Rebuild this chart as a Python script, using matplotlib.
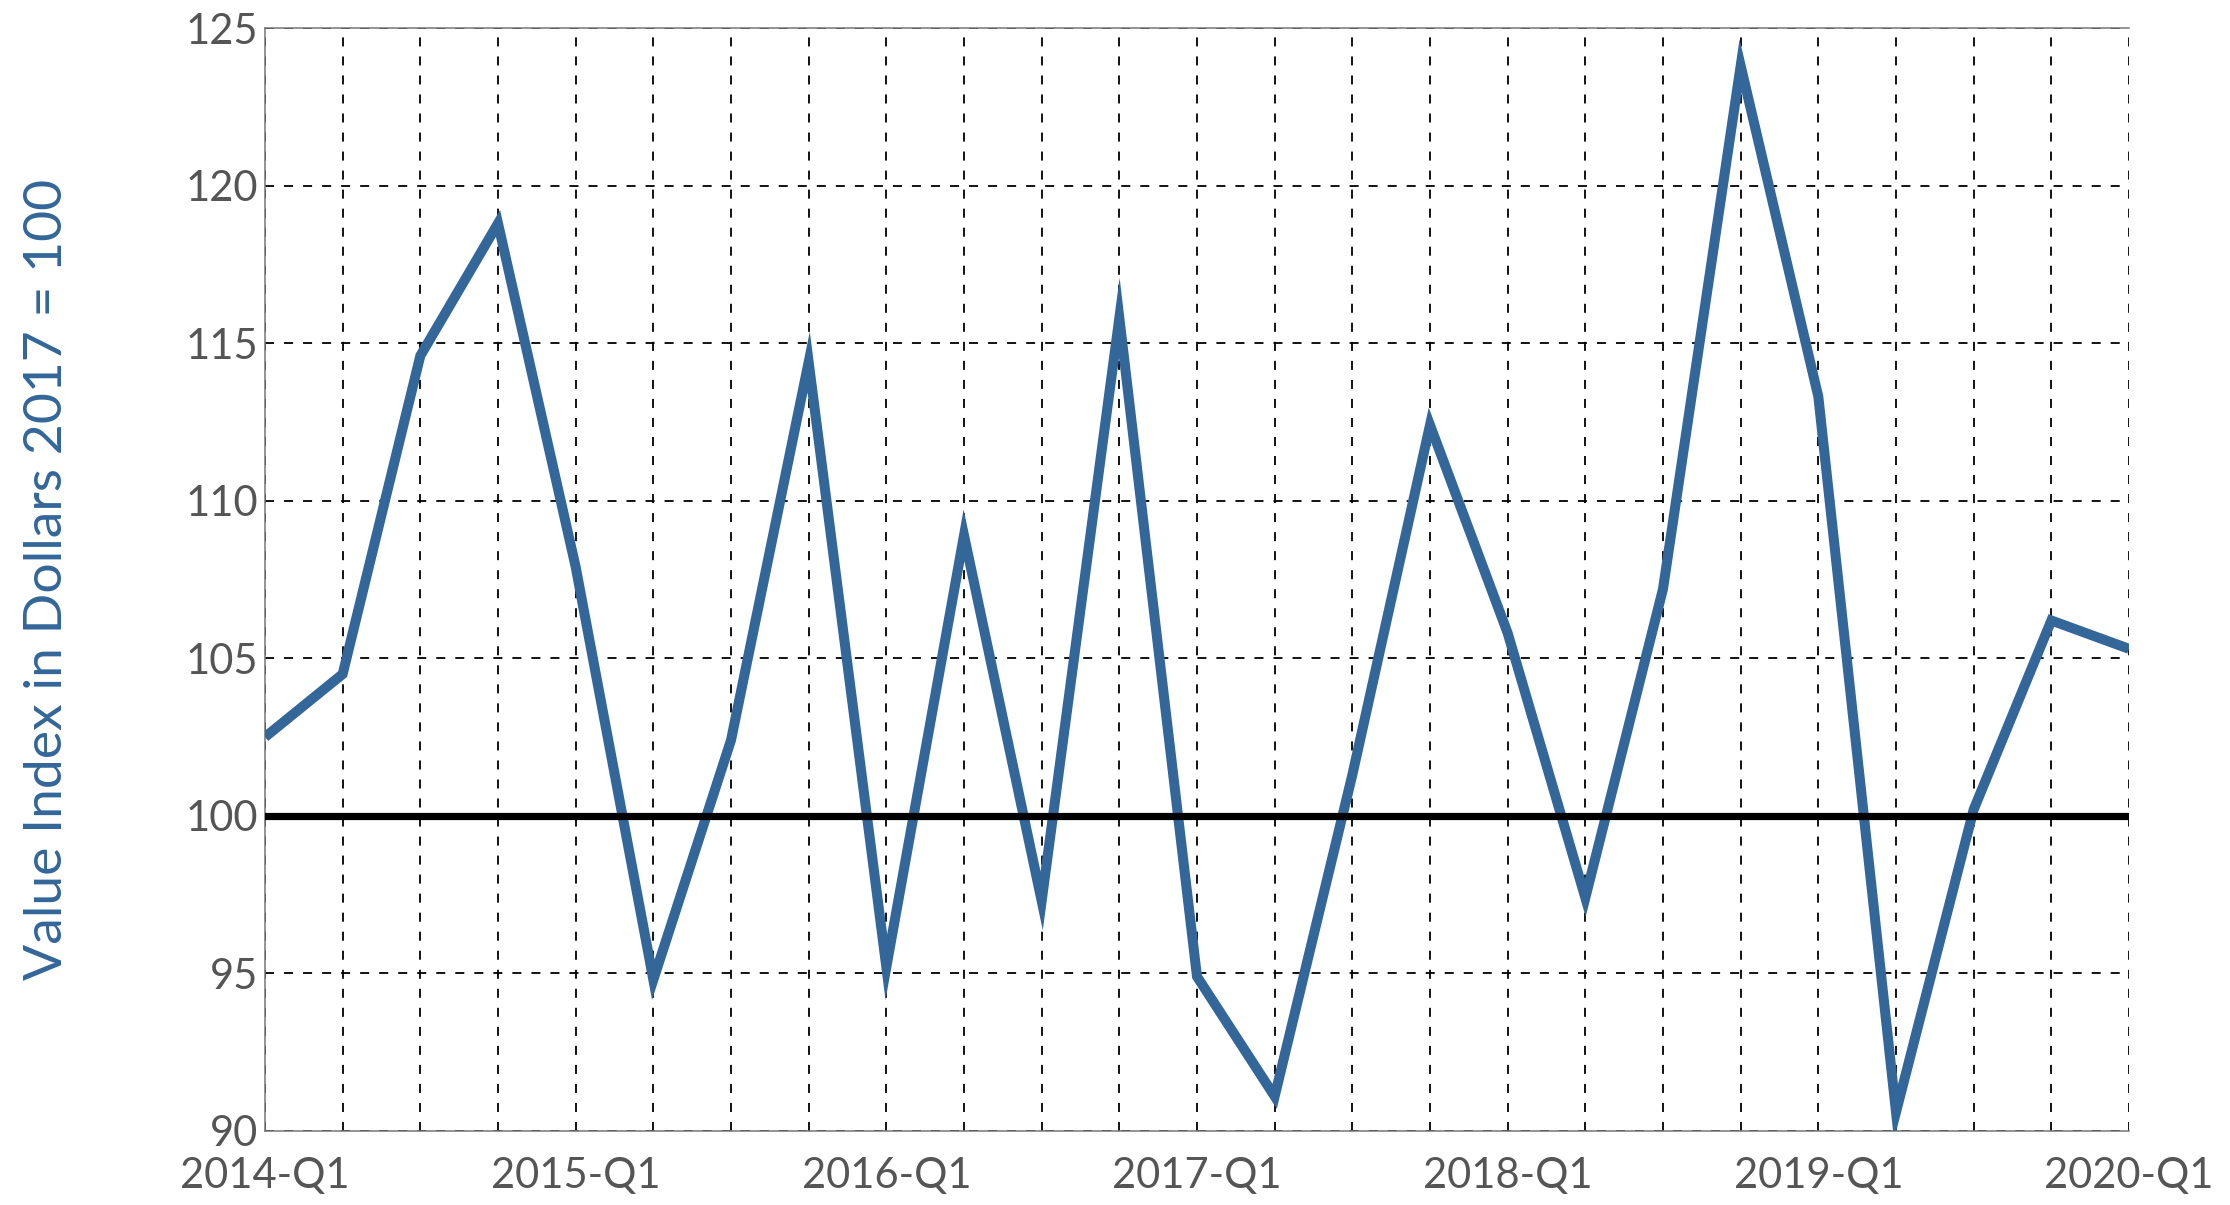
import matplotlib
matplotlib.use("Agg")
import matplotlib.pyplot as plt
from matplotlib.ticker import FixedLocator

# ---- data ----
quarters = [
    "2014-Q1", "2014-Q2", "2014-Q3", "2014-Q4",
    "2015-Q1", "2015-Q2", "2015-Q3", "2015-Q4",
    "2016-Q1", "2016-Q2", "2016-Q3", "2016-Q4",
    "2017-Q1", "2017-Q2", "2017-Q3", "2017-Q4",
    "2018-Q1", "2018-Q2", "2018-Q3", "2018-Q4",
    "2019-Q1", "2019-Q2", "2019-Q3", "2019-Q4",
    "2020-Q1",
]
value_index = [
    102.5, 104.5, 114.6, 118.8,
    107.9, 94.8, 102.4, 114.4,
    95.2, 108.9, 97.3, 115.8,
    94.9, 91.1, 101.3, 112.4,
    105.8, 97.4, 107.2, 123.8,
    113.3, 90.6, 100.2, 106.2,
    105.3,
]
y_ticks = [90, 95, 100, 105, 110, 115, 120, 125]
baseline_value = 100
y_label = "Value Index in Dollars 2017 = 100"

# ---- style ----
plt.rcParams["font.family"] = ["Lato", "DejaVu Sans"]
plt.rcParams["lines.scale_dashes"] = False

line_color = "#336699"
tick_color = "#555555"

W, H, DPI = 2230, 1205, 100
fig = plt.figure(figsize=(W / DPI, H / DPI), dpi=DPI)
ax = fig.add_axes([265 / W, 1 - 1131 / H, (2129 - 265) / W, (1131 - 28) / H])

x = list(range(len(quarters)))
ax.plot(x, value_index, color=line_color, lw=7.2, solid_joinstyle="miter",
        solid_capstyle="butt", zorder=3)
ax.axhline(baseline_value, color="black", lw=5.2, zorder=4)

ax.set_xlim(0, len(quarters) - 1)
ax.set_ylim(min(y_ticks), max(y_ticks))

ax.xaxis.set_major_locator(FixedLocator(x))
ax.set_xticklabels([q if q.endswith("Q1") else "" for q in quarters])
ax.yaxis.set_major_locator(FixedLocator(y_ticks))
ax.set_yticklabels([str(v) for v in y_ticks])

ax.grid(True, color="black", lw=1.3, linestyle=(0, (6.5, 7.2)), zorder=1)
ax.set_axisbelow(True)

ax.tick_params(axis="both", length=0, labelsize=30, colors=tick_color)
ax.tick_params(axis="x", pad=19)
ax.tick_params(axis="y", pad=5)

for side in ["left", "top", "bottom"]:
    ax.spines[side].set_color("#777777")
    ax.spines[side].set_linewidth(1.1)
ax.spines["right"].set_visible(False)

ax.set_ylabel(y_label, fontsize=38.5, color=line_color)
ax.yaxis.set_label_coords(-0.104, 0.5)

fig.savefig("out.png", dpi=DPI)
